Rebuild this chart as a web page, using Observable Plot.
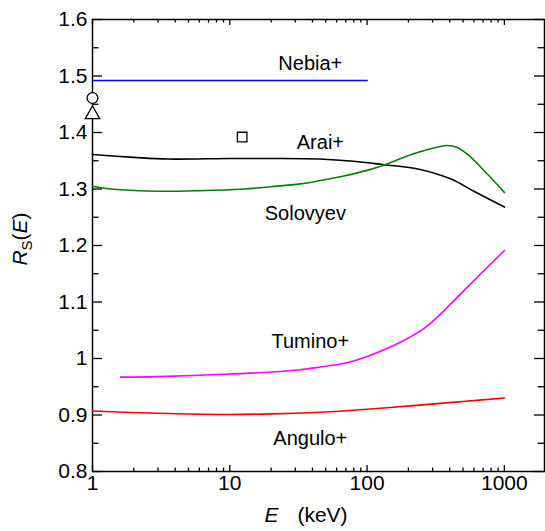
<!DOCTYPE html>
<html>
<head>
<meta charset="utf-8">
<script src="https://cdn.jsdelivr.net/npm/d3@7"></script>
<script src="https://cdn.jsdelivr.net/npm/@observablehq/plot@0.6"></script>
<style>
  html, body { margin: 0; padding: 0; background: #fff; }
  #chart svg { display: block; }
</style>
</head>
<body>
<div id="chart"></div>
<script>
// ---- data ----
const nebiaE = [1, 100];
const nebiaR = [1.492, 1.492];

const araiE = [1, 2, 3.5, 10, 20, 45, 80, 132, 230, 405, 600, 1000];
const araiR = [1.361, 1.356, 1.353, 1.354, 1.354, 1.353, 1.349, 1.343, 1.336, 1.318, 1.296, 1.268];

const solovyevE = [1, 1.5, 3, 6, 12.6, 20, 32.6, 45.7, 67.5, 100, 132, 180, 230, 300, 380, 450, 535, 748, 1000];
const solovyevR = [1.305, 1.299, 1.296, 1.297, 1.300, 1.304, 1.309, 1.315, 1.323, 1.333, 1.342, 1.355, 1.364, 1.372, 1.377, 1.374, 1.362, 1.327, 1.294];

const tuminoE = [1.6, 3, 9, 20, 32.6, 45.7, 67.5, 100, 156, 259, 324, 535, 1000];
const tuminoR = [0.967, 0.968, 0.972, 0.976, 0.980, 0.985, 0.991, 1.0035, 1.023, 1.053, 1.073, 1.126, 1.191];

const anguloE = [1, 3, 9, 20, 45.7, 75.5, 230, 500, 1000];
const anguloR = [0.907, 0.903, 0.901, 0.902, 0.905, 0.908, 0.917, 0.924, 0.930];

// single points (open symbols)
const pointE = [1, 1, 12.3];
const pointR = [1.461, 1.432, 1.392];
const pointSymbol = ["circle", "triangle", "square"];

// curve labels
const labelNames = ["Nebia+", "Arai+", "Solovyev", "Tumino+", "Angulo+"];
const labelE = [38.6, 45.7, 35.5, 38.6, 38.6];
const labelR = [1.522, 1.382, 1.257, 1.030, 0.858];

// ticks
const xMajor = [1, 10, 100, 1000];
const xMajorLabels = ["1", "10", "100", "1000"];
const yMajor = [0.8, 0.9, 1, 1.1, 1.2, 1.3, 1.4, 1.5, 1.6];
const yMajorLabels = ["0.8", "0.9", "1", "1.1", "1.2", "1.3", "1.4", "1.5", "1.6"];
const yMinor = [0.85, 0.95, 1.05, 1.15, 1.25, 1.35, 1.45, 1.55];

// ---- build ----
const toRows = (E, R) => E.map((e, i) => ({E: e, R: R[i]}));
const xMinor = [];
for (const dec of [1, 10, 100, 1000]) for (let k = 2; k <= 9; k++) if (dec * k <= 1960) xMinor.push(dec * k);

const W = 545, H = 531;
const mL = 92, mR = 1, mT = 19, mB = 60;
const fw = W - mL - mR, fh = H - mT - mB;
const font = "'Liberation Sans', Arial, Helvetica, sans-serif";

const series = [
  {rows: toRows(nebiaE, nebiaR), color: "#0000ff"},
  {rows: toRows(araiE, araiR), color: "#000000"},
  {rows: toRows(solovyevE, solovyevR), color: "#008000"},
  {rows: toRows(tuminoE, tuminoR), color: "#ff00ff"},
  {rows: toRows(anguloE, anguloR), color: "#ff0000"}
];

const points = pointE.map((e, i) => ({E: e, R: pointR[i], s: pointSymbol[i]}));
const labels = labelNames.map((n, i) => ({name: n, E: labelE[i], R: labelR[i]}));

const tickStyle = {stroke: "black", strokeWidth: 1.3};

const chart = Plot.plot({
  width: W,
  height: H,
  marginLeft: mL,
  marginRight: mR,
  marginTop: mT,
  marginBottom: mB,
  style: {fontFamily: font, background: "white"},
  x: {type: "log", domain: [1, 1960], axis: null},
  y: {domain: [0.8, 1.6], axis: null},
  symbol: {type: "identity"},
  marks: [
    // ticks: inward, all four sides
    Plot.tickX(xMajor, {x: d => d, insetTop: fh - 6, ...tickStyle}),
    Plot.tickX(xMajor, {x: d => d, insetBottom: fh - 6, ...tickStyle}),
    Plot.tickX(xMinor, {x: d => d, insetTop: fh - 3.5, ...tickStyle}),
    Plot.tickX(xMinor, {x: d => d, insetBottom: fh - 3.5, ...tickStyle}),
    Plot.tickY(yMajor, {y: d => d, insetRight: fw - 10, ...tickStyle}),
    Plot.tickY(yMajor, {y: d => d, insetLeft: fw - 10, ...tickStyle}),
    Plot.tickY(yMinor, {y: d => d, insetRight: fw - 6.5, ...tickStyle}),
    Plot.tickY(yMinor, {y: d => d, insetLeft: fw - 6.5, ...tickStyle}),
    Plot.frame({stroke: "black", strokeWidth: 1.5}),
    // curves
    ...series.map(s => Plot.line(s.rows, {x: "E", y: "R", stroke: s.color, strokeWidth: 1.6, curve: "catmull-rom"})),
    // points
    Plot.dot(points, {x: "E", y: "R", symbol: "s", r: 5.4, stroke: "black", fill: "white", strokeWidth: 1.3}),
    // curve labels
    Plot.text(labels, {x: "E", y: "R", text: "name", fontSize: 20, fill: "black"}),
    // tick labels
    Plot.text(yMajor, {y: d => d, text: (d, i) => yMajorLabels[i], frameAnchor: "left", dx: -5, textAnchor: "end", fontSize: 21, fill: "black"}),
    Plot.text(xMajor, {x: d => d, text: (d, i) => xMajorLabels[i], frameAnchor: "bottom", dy: 18, fontSize: 21, fill: "black"}),
    // x axis title
    Plot.text(["E"], {frameAnchor: "bottom", dx: -47, dy: 50, fontSize: 21, fontStyle: "italic", fill: "black"}),
    Plot.text(["(keV)"], {frameAnchor: "bottom", dx: 4, dy: 50, fontSize: 21, fill: "black"})
  ]
});

// y axis title with sub/italic parts
const svg = d3.select(chart.tagName.toLowerCase() === "svg" ? chart : chart.querySelector("svg"));
const yt = svg.append("text")
  .attr("transform", `translate(27, ${mT + fh / 2 - 6}) rotate(-90)`)
  .attr("text-anchor", "middle")
  .attr("font-family", font)
  .attr("font-size", 21)
  .attr("fill", "black");
yt.append("tspan").attr("font-style", "italic").text("R");
yt.append("tspan").attr("font-size", 15).attr("dy", 5).text("S");
yt.append("tspan").attr("dy", -5).text("(");
yt.append("tspan").attr("font-style", "italic").text("E");
yt.append("tspan").text(")");

document.getElementById("chart").appendChild(chart);
</script>
</body>
</html>
